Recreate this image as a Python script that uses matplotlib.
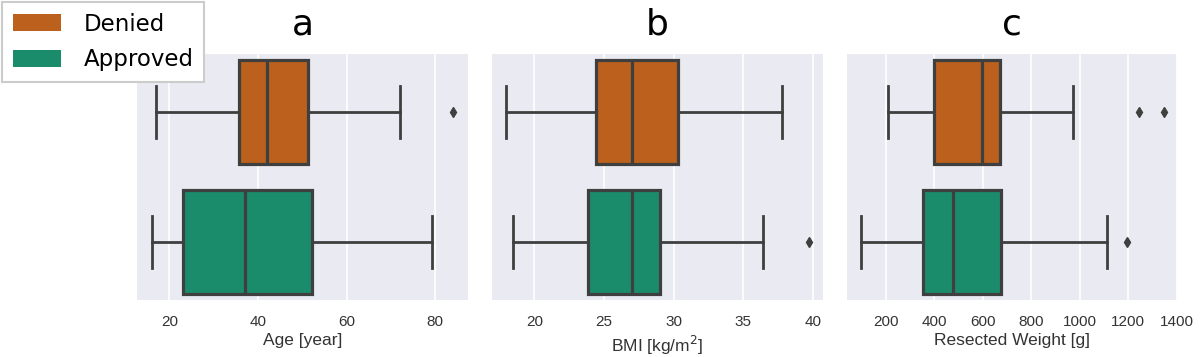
import matplotlib
matplotlib.use("Agg")
import matplotlib.pyplot as plt
import matplotlib.patches as mpatches
import numpy as np

# ---- data ------------------------------------------------------------------
groups = ["Denied", "Approved"]
colors = ["#bb611d", "#1a8c6b"]
panel_titles = ["a", "b", "c"]
xlabels = ["Age [year]", "BMI [kg/m$^2$]", "Resected Weight [g]"]

# five-number summaries: whislo, q1, median, q3, whishi ; per group
age_stats = [[17.0, 35.8, 42.0, 51.3, 72.1], [16.0, 23.1, 37.1, 52.1, 79.2]]
age_fliers = [[84.1], []]
bmi_stats = [[18.0, 24.4, 27.0, 30.3, 37.8], [18.5, 23.85, 27.0, 29.0, 36.4]]
bmi_fliers = [[], [39.7]]
weight_stats = [[207, 400, 595, 672, 973], [98, 351, 475, 675, 1113]]
weight_fliers = [[1246, 1346], [1196]]

xlims = [(12.7, 87.4), (16.96, 40.74), (39, 1401)]
xticks = [[20, 40, 60, 80], [20, 25, 30, 35, 40],
          [200, 400, 600, 800, 1000, 1200, 1400]]

# ---- style ------------------------------------------------------------------
BG = "#eaeaf2"
LINE = "#3f3f3f"
TICKFONT = "Liberation Sans"

fig = plt.figure(figsize=(12, 3.57), dpi=100)
rects = [[137 / 1200, 57 / 357, 331 / 1200, 246 / 357],
         [492 / 1200, 57 / 357, 331 / 1200, 246 / 357],
         [847 / 1200, 57 / 357, 330 / 1200, 246 / 357]]

all_stats = [age_stats, bmi_stats, weight_stats]
all_fliers = [age_fliers, bmi_fliers, weight_fliers]

for i in range(3):
    ax = fig.add_axes(rects[i])
    ax.set_facecolor(BG)
    for sp in ax.spines.values():
        sp.set_visible(False)
    ax.grid(axis="x", color="white", lw=1.2, zorder=0)
    ax.set_axisbelow(True)

    bstats = []
    for k in range(2):
        lo, q1, med, q3, hi = all_stats[i][k]
        bstats.append(dict(whislo=lo, q1=q1, med=med, q3=q3, whishi=hi,
                           fliers=all_fliers[i][k], label=groups[k]))
    bp = ax.bxp(bstats, positions=[0, 1], vert=False, widths=0.8,
                capwidths=0.4, patch_artist=True, showfliers=True,
                boxprops=dict(edgecolor=LINE, linewidth=2.3),
                medianprops=dict(color=LINE, linewidth=2.3),
                whiskerprops=dict(color=LINE, linewidth=2.0),
                capprops=dict(color=LINE, linewidth=2.0),
                flierprops=dict(marker="d", markersize=5, markerfacecolor=LINE,
                                markeredgecolor=LINE))
    for patch, c in zip(bp["boxes"], colors):
        patch.set_facecolor(c)

    ax.set_ylim(1.45, -0.45)
    ax.set_yticks([])
    ax.set_xlim(*xlims[i])
    ax.set_xticks(xticks[i])
    ax.tick_params(axis="x", length=0, pad=11, labelsize=11, labelcolor="#333333")
    for lab in ax.get_xticklabels():
        lab.set_fontfamily(TICKFONT)
    ax.set_xlabel(xlabels[i], fontsize=12.5, family=TICKFONT, color="#333333",
                  labelpad=3)
    ax.set_title(panel_titles[i], fontsize=26, family="DejaVu Sans", pad=14)

handles = [mpatches.Patch(facecolor=colors[k], edgecolor="none", label=groups[k])
           for k in range(2)]
leg = fig.legend(handles=handles, loc="upper left", bbox_to_anchor=(0.0, 1.0),
                 prop=dict(family="DejaVu Sans", size=16.5), frameon=True,
                 fancybox=False, edgecolor="#cccccc", framealpha=1,
                 handlelength=2.1, handleheight=0.75, handletextpad=1.0,
                 borderpad=0.45, labelspacing=0.55, borderaxespad=0.1)
leg.get_frame().set_linewidth(1.5)

fig.savefig("out.png", dpi=100)
